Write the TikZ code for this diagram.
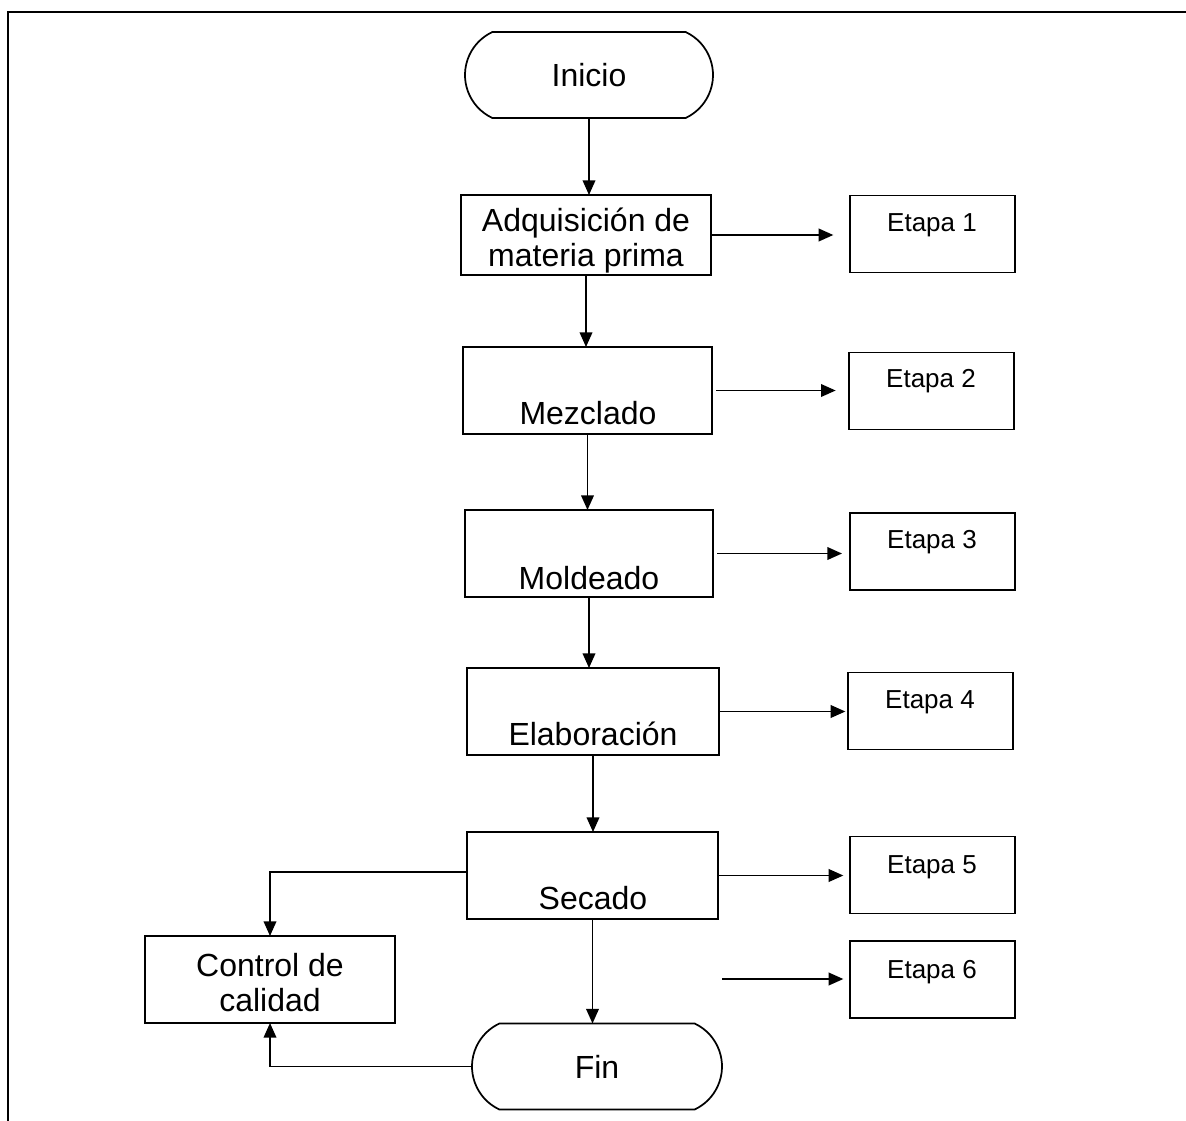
\documentclass[tikz,border=0pt]{standalone}
\usepackage{fontspec}
\setmainfont{Liberation Sans}
\usetikzlibrary{shapes.misc,arrows.meta}
\begin{document}
\begin{tikzpicture}[x=0.75pt,y=-0.75pt,
  box/.style={draw,line width=1.3pt,inner sep=0pt,outer sep=0pt,minimum height=65.25pt},
  etapa/.style={draw,line width=1.3pt,inner sep=0pt,outer sep=0pt,minimum width=123.75pt,minimum height=57.75pt},
  term/.style={draw,line width=1.3pt,rounded rectangle,rounded rectangle arc length=130,inner sep=0pt,outer sep=0pt,minimum height=64.5pt,font=\fontsize{24}{26.25}\selectfont},
  arr/.style={-{Triangle[length=11pt,width=9.5pt]},line width=1.2pt},
  big/.style={font=\fontsize{24}{26.25}\selectfont,inner sep=0pt,anchor=base},
  small/.style={font=\fontsize{19.5}{22}\selectfont,inner sep=0pt,anchor=base}]
\useasboundingbox (0,0) rectangle (1186,1121);
% frame
\draw[line width=1.8pt] (8,1121) -- (8,12) -- (1186,12);

% main column
\node[term,minimum width=186pt] (ini) at (589,75) {Inicio};
\node[box,minimum width=187.5pt,minimum height=60pt] (adq) at (586,235) {};
\node[big,align=center,anchor=center] (adqT) at (586,241) {Adquisición de\\materia prima};
\node[box,minimum width=186.75pt] (mez) at (587.5,390.5) {};
\node[big] (mezT) at (588,424) {Mezclado};
\node[box,minimum width=186pt] (mol) at (589,553.5) {};
\node[big] (molT) at (589,589) {Moldeado};
\node[box,minimum width=189pt] (ela) at (593,711.5) {};
\node[big] (elaT) at (593,745) {Elaboración};
\node[box,minimum width=188.25pt] (sec) at (592.5,875.5) {};
\node[big] (secT) at (593,909) {Secado};
\node[term,minimum width=187.5pt] (fin) at (597,1066.5) {Fin};
\node[box,minimum width=187.5pt] (ctrl) at (270,979.5) {};
\node[big,align=center,anchor=center] (ctrlT) at (270,983) {Control de\\calidad};

% stages
\node[etapa] (e1) at (932.5,234) {};
\node[small] (e1T) at (932,231) {Etapa 1};
\node[etapa] (e2) at (931.5,391) {};
\node[small] (e2T) at (931,387) {Etapa 2};
\node[etapa] (e3) at (932.5,551.5) {};
\node[small] (e3T) at (932,548) {Etapa 3};
\node[etapa] (e4) at (930.5,711) {};
\node[small] (e4T) at (930,708) {Etapa 4};
\node[etapa] (e5) at (932.5,875) {};
\node[small] (e5T) at (932,873) {Etapa 5};
\node[etapa] (e6) at (932.5,979.5) {};
\node[small] (e6T) at (932,978) {Etapa 6};
\coordinate (s6) at (722,979);

% vertical connectors
\draw[arr] (ini.south) -- (ini.south |- adq.north);
\draw[arr] (adq.south) -- (adq.south |- mez.north);
\draw[arr] (mez.south) -- (mez.south |- mol.north);
\draw[arr] (mol.south) -- (mol.south |- ela.north);
\draw[arr] (ela.south) -- (ela.south |- sec.north);
\draw[arr] (sec.south) -- (sec.south |- fin.north);

% horizontal connectors to stages
\draw[arr,shorten >=12.5pt] (adq.east) -- (adq.east -| e1.west);
\draw[arr,shorten <=3pt,shorten >=10pt] (mez.east) -- (mez.east -| e2.west);
\draw[arr,shorten <=3pt,shorten >=6pt] (mol.east) -- (mol.east -| e3.west);
\draw[arr,shorten >=2pt] (ela.east) -- (ela.east -| e4.west);
\draw[arr,shorten >=5pt] (sec.east) -- (sec.east -| e5.west);
\draw[arr,shorten >=5pt] (s6) -- (s6 -| e6.west);

% quality control loop
\draw[arr] ([yshift=2.6pt]sec.west) -| (ctrl.north);
\draw[arr] (fin.west) -| (ctrl.south);
\end{tikzpicture}
\end{document}
